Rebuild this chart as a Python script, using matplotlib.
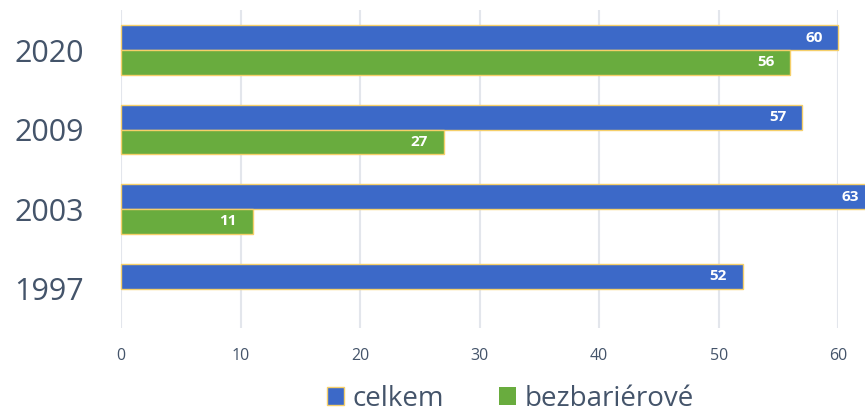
import matplotlib.pyplot as plt
import numpy as np
from matplotlib.patches import Patch

years = ['1997', '2003', '2009', '2020']
celkem = [52, 63, 57, 60]
bezbarierove = [None, 11, 27, 56]

plt.rcParams['font.family'] = ['Open Sans', 'DejaVu Sans']

fig = plt.figure(figsize=(8.65, 4.13), dpi=100)
ax = fig.add_axes([0.14, 0.205, 0.829, 0.77])

y = np.arange(len(years))
h = 0.31
blue = '#3C69C8'
green = '#69AC3E'
edge = '#F5CF6A'
txt = '#44546A'

for i, v in enumerate(celkem):
    ax.barh(y[i] + h / 2, v, height=h, color=blue, edgecolor=edge, linewidth=1, clip_on=False, zorder=3)
    ax.text(min(v - 1.3, 61.7), y[i] + h / 2, str(v), ha='right', va='center',
            color='white', fontsize=11, fontweight='bold', zorder=4, clip_on=False)
for i, v in enumerate(bezbarierove):
    if v is None:
        continue
    ax.barh(y[i] - h / 2, v, height=h, color=green, edgecolor=edge, linewidth=1, clip_on=False, zorder=3)
    ax.text(v - 1.3, y[i] - h / 2, str(v), ha='right', va='center',
            color='white', fontsize=11, fontweight='bold', zorder=4)

ax.set_xlim(0, 60)
ax.set_ylim(-0.5, 3.5)
ax.set_xticks(range(0, 61, 10))
ax.set_yticks(y)
ax.set_yticklabels(years, fontsize=22, color=txt)
ax.tick_params(axis='x', labelsize=11.5, labelcolor=txt, length=0, pad=14)
ax.tick_params(axis='y', length=0, pad=27)
ax.grid(axis='x', color='#E3E6EC', linewidth=1.5, zorder=0)
for s in ax.spines.values():
    s.set_visible(False)

handles = [Patch(facecolor=blue, edgecolor=edge, label='celkem'),
           Patch(facecolor=green, edgecolor='none', label='bezbariérové')]
fig.legend(handles=handles, loc='lower center', bbox_to_anchor=(0.59, -0.06), ncol=2,
           frameon=False, fontsize=20, handlelength=0.6, handleheight=0.6,
           handletextpad=0.3, columnspacing=2.0, labelcolor=txt)

fig.savefig('out.png', dpi=100)
